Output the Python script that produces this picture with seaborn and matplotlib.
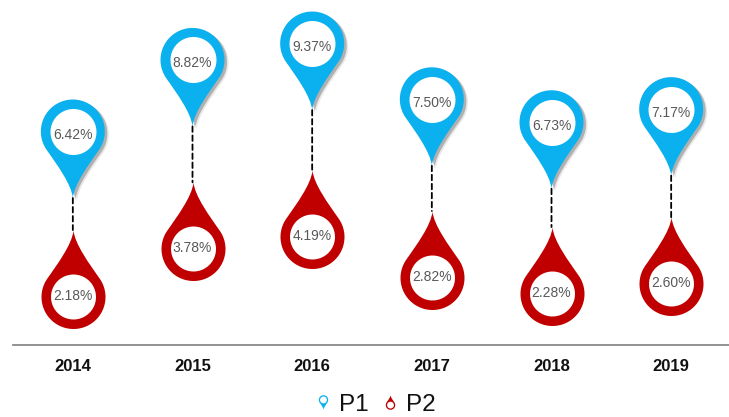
import numpy as np
import pandas as pd
import matplotlib
matplotlib.use("Agg")
import matplotlib.pyplot as plt
import matplotlib.patheffects as pe
from matplotlib.lines import Line2D
from matplotlib.patches import ConnectionPatch
from matplotlib.path import Path
import seaborn as sns

years = ["2014", "2015", "2016", "2017", "2018", "2019"]
p1_values = [6.42, 8.82, 9.37, 7.50, 6.73, 7.17]
p2_values = [2.18, 3.78, 4.19, 2.82, 2.28, 2.60]

BLUE = "#0BB0EE"
RED = "#C00000"
DPI = 100
PX = 72 / DPI

sns.set_style("white")
plt.rcParams["font.family"] = ["Liberation Sans", "DejaVu Sans"]


def pin_path(radius, centre, direction=1, hole=None, shift=0):
    """Teardrop with its tip at the origin, so the tip sits on the data value."""
    theta = np.radians(np.linspace(-35, 215, 80))
    xs = radius * np.cos(theta)
    ys = centre + radius * np.sin(theta)
    verts = list(zip(xs, ys))
    codes = [Path.MOVETO] + [Path.LINETO] * (len(verts) - 1)
    # flanks leave the circle along its tangent and taper into the tip
    reach = 0.56 * radius
    tx, ty = -np.sin(theta[-1]), np.cos(theta[-1])
    verts += [(xs[-1] + reach * tx, ys[-1] + reach * ty), (-1.5, 14), (0, 0)]
    codes += [Path.CURVE4] * 3
    verts += [(1.5, 14), (xs[0] - reach * tx, ys[0] + reach * ty), (xs[0], ys[0])]
    codes += [Path.CURVE4] * 3
    verts = np.array(verts)
    if hole:
        t = np.radians(np.linspace(360, 0, 60))
        ring = np.column_stack([hole * np.cos(t), centre + hole * np.sin(t)])
        verts = np.vstack([verts, ring])
        codes += [Path.MOVETO] + [Path.LINETO] * 59
    verts[:, 1] = (verts[:, 1] + shift) * direction
    return Path(verts, codes)


def disc_path(radius, centre, direction=1):
    """White disc that shares the tip anchor of the pin."""
    t = np.radians(np.linspace(0, 360, 60))
    verts = np.column_stack([radius * np.cos(t), centre + radius * np.sin(t)])
    verts = np.vstack([[0, 0], verts])
    verts[:, 1] *= direction
    codes = [Path.MOVETO, Path.MOVETO] + [Path.LINETO] * 59
    return Path(verts, codes)


def marker_area(path):
    # custom markers are normalised on their largest coordinate
    return (2 * np.abs(path.vertices).max() * PX) ** 2


df = pd.DataFrame({"year": years, "P1": p1_values, "P2": p2_values})

fig = plt.figure(figsize=(7.29, 4.17), dpi=DPI)
ax = fig.add_axes([13 / 729, 72 / 417, 718 / 729, 345 / 417])
ax2 = ax.twinx()

pin_up = pin_path(32, 66.5)
pin_down = pin_path(32, 66.5, direction=-1)
disc_up = disc_path(23, 66.5)
disc_down = disc_path(22.5, 66.5, direction=-1)

shadow = [
    pe.SimplePatchShadow(offset=(4 * PX, -3 * PX), shadow_rgbFace="#c4c4c4", alpha=0.4),
    pe.SimplePatchShadow(offset=(2.5 * PX, -2 * PX), shadow_rgbFace="#8c8c8c", alpha=0.6),
    pe.Normal(),
]

pins = sns.scatterplot(data=df, x="year", y="P1", marker=pin_up, s=marker_area(pin_up),
                       color=BLUE, linewidth=0, legend=False, ax=ax, zorder=3)
pins.collections[0].set_path_effects(shadow)
sns.scatterplot(data=df, x="year", y="P1", marker=disc_up, s=marker_area(disc_up),
                color="white", linewidth=0, legend=False, ax=ax, zorder=4)
sns.scatterplot(data=df, x="year", y="P2", marker=pin_down, s=marker_area(pin_down),
                color=RED, linewidth=0, legend=False, ax=ax2, zorder=3)
sns.scatterplot(data=df, x="year", y="P2", marker=disc_down, s=marker_area(disc_down),
                color="white", linewidth=0, legend=False, ax=ax2, zorder=4)

# 29.8 px per percentage point on both scales, the P2 scale is shifted down
ax.set_xlim(-0.5, 5.5)
ax2.set_xlim(-0.5, 5.5)
ax.set_ylim(1.49, 13.06)
ax2.set_ylim(-1.68, 9.90)

for i, (v1, v2) in enumerate(zip(p1_values, p2_values)):
    ax.annotate(f"{v1:.2f}%", (i, v1), xytext=(0, 63 * PX), textcoords="offset points",
                ha="center", va="center", fontsize=10, color="#595959", zorder=5)
    ax2.annotate(f"{v2:.2f}%", (i, v2), xytext=(0, -66 * PX), textcoords="offset points",
                 ha="center", va="center", fontsize=10, color="#595959", zorder=5)
    link = ConnectionPatch(xyA=(i, v1), coordsA=ax.transData, xyB=(i, v2), coordsB=ax2.transData,
                           color="black", lw=1.3, linestyle=(0, (3, 2)), zorder=1)
    fig.add_artist(link)

ax.set_xlabel("")
ax.set_ylabel("")
ax2.set_ylabel("")
ax2.set_yticks([])
ax.set_yticks([])
ax.set_xticks(range(len(years)))
ax.set_xticklabels(years, fontsize=12, fontweight="bold", color="#111111")
ax.tick_params(axis="x", length=0, pad=10)
ax2.tick_params(axis="x", length=0, labelbottom=False)

sns.despine(ax=ax, left=True)
sns.despine(ax=ax2, left=True, right=True, bottom=True)
ax.spines["bottom"].set_color("#7f7f7f")
ax.spines["bottom"].set_linewidth(1.2)
ax.patch.set_visible(False)
ax2.patch.set_visible(False)

icon = pin_path(32, 66.5, hole=23, shift=-49)
icon_down = pin_path(32, 66.5, direction=-1, hole=23, shift=-49)
handles = [
    Line2D([], [], linestyle="none", marker=icon, color=BLUE, markersize=10.5, markeredgewidth=0),
    Line2D([], [], linestyle="none", marker=icon_down, color=RED, markersize=10.5, markeredgewidth=0),
]
fig.legend(handles, ["P1", "P2"], loc="lower center", bbox_to_anchor=(0.51, -0.05), ncol=2,
           frameon=False, fontsize=17.5, handletextpad=0.05, columnspacing=0.3, handlelength=1.2,
           labelcolor="#111111")

fig.savefig("out.png", dpi=DPI)
